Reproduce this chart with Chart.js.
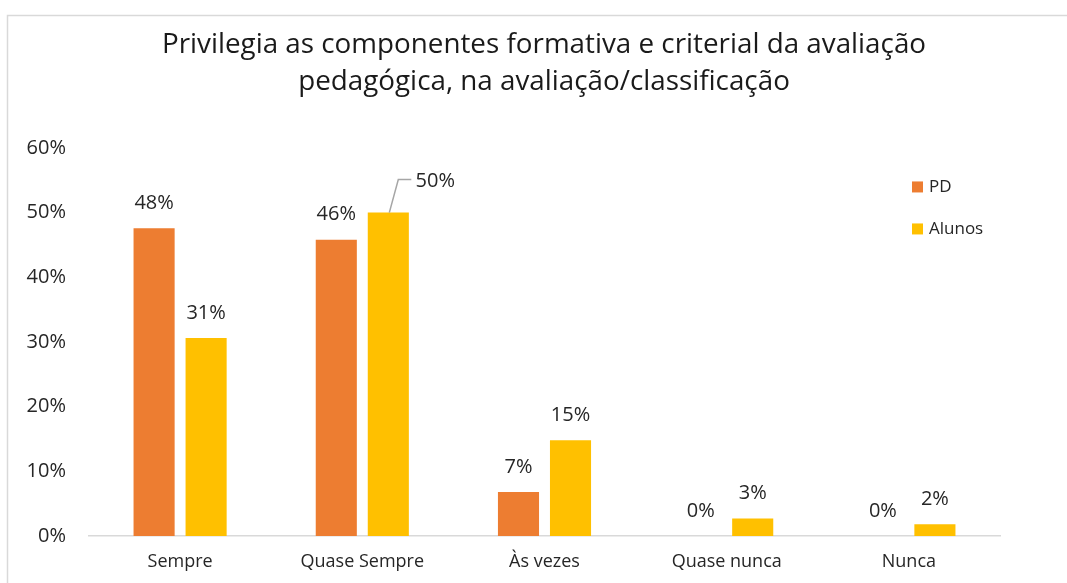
<!DOCTYPE html>
<html lang="pt">
<head>
<meta charset="utf-8">
<title>Privilegia as componentes formativa e criterial da avaliação pedagógica</title>
<script src="https://cdn.jsdelivr.net/npm/chart.js@4.4.1/dist/chart.umd.min.js"></script>
<style>
  html, body { margin: 0; padding: 0; background: #fff; }
  #wrap { width: 1067px; height: 583px; }
</style>
</head>
<body>
<div id="wrap"><canvas id="chart" width="1067" height="583"></canvas></div>
<script>
// --- data (percent) ---
const categories = ['Sempre', 'Quase Sempre', 'Às vezes', 'Quase nunca', 'Nunca'];
const seriesNames = ['PD', 'Alunos'];
const pdValues = [47.6, 45.8, 6.8, 0, 0];
const alunosValues = [30.6, 50.0, 14.8, 2.7, 1.8];
const yTicks = [0, 10, 20, 30, 40, 50, 60];
const titleLines = ['Privilegia as componentes formativa e criterial da avaliação',
                    'pedagógica, na avaliação/classificação'];

const FONT = '"Open Sans", "Noto Sans", sans-serif';
const TEXT = '#262626';
const colors = ['#ED7D31', '#FFC000'];

// light frame round the chart (top and left edges are visible)
const framePlugin = {
    id: 'frame',
    beforeDraw(chart) {
        const ctx = chart.ctx;
        ctx.save();
        ctx.strokeStyle = '#d9d9d9';
        ctx.lineWidth = 1.5;
        ctx.beginPath();
        ctx.moveTo(7.5, chart.height);
        ctx.lineTo(7.5, 15.5);
        ctx.lineTo(chart.width, 15.5);
        ctx.stroke();
        ctx.restore();
    }
};

// value labels on top of the bars; one label is pulled aside with a leader line
const valueLabels = {
    id: 'valueLabels',
    afterDatasetsDraw(chart, args, opts) {
        const ctx = chart.ctx;
        ctx.save();
        ctx.font = '20px ' + FONT;
        ctx.fillStyle = TEXT;
        ctx.textAlign = 'center';
        ctx.textBaseline = 'middle';
        chart.data.datasets.forEach((ds, di) => {
            chart.getDatasetMeta(di).data.forEach((bar, i) => {
                const txt = Math.round(ds.data[i]) + '%';
                const s = opts.shifted;
                if (s && s.dataset === di && s.index === i) {
                    ctx.strokeStyle = '#a6a6a6';
                    ctx.lineWidth = 1.5;
                    ctx.beginPath();
                    ctx.moveTo(bar.x + 1, bar.y);
                    ctx.lineTo(bar.x + 10, bar.y + s.dy - 2);
                    ctx.lineTo(bar.x + 23, bar.y + s.dy - 2);
                    ctx.stroke();
                    ctx.fillText(txt, bar.x + s.dx, bar.y + s.dy);
                } else {
                    ctx.fillText(txt, bar.x, bar.y - 25);
                }
            });
        });
        ctx.restore();
    }
};

// legend drawn inside the top-right corner of the plot
const cornerLegend = {
    id: 'cornerLegend',
    afterDraw(chart, args, opts) {
        const ctx = chart.ctx;
        const area = chart.chartArea;
        ctx.save();
        ctx.font = '17px ' + FONT;
        ctx.textBaseline = 'middle';
        chart.data.datasets.forEach((ds, i) => {
            const x = area.right + opts.offsetX;
            const y = area.top + opts.offsetY + i * opts.spacing;
            ctx.fillStyle = ds.backgroundColor;
            ctx.fillRect(x, y - 5.5, 11, 11);
            ctx.fillStyle = TEXT;
            ctx.fillText(ds.label, x + 17, y);
        });
        ctx.restore();
    }
};

const ctx = document.getElementById('chart');
new Chart(ctx, {
    type: 'bar',
    data: {
        labels: categories,
        datasets: [
            { label: seriesNames[0], data: pdValues, backgroundColor: colors[0] },
            { label: seriesNames[1], data: alunosValues, backgroundColor: colors[1] }
        ]
    },
    options: {
        responsive: false,
        animation: false,
        layout: { padding: { left: 21, right: 0, top: 0, bottom: 0 } },
        datasets: {
            bar: { categoryPercentage: 0.571, barPercentage: 0.79 }
        },
        scales: {
            x: {
                grid: { display: false, drawTicks: false },
                border: { display: true, color: '#d9d9d9', width: 1.5 },
                ticks: { color: TEXT, font: { family: FONT, size: 18 }, padding: 15 },
                afterFit(scale) { scale.height = 47; }
            },
            y: {
                min: 0,
                max: yTicks[yTicks.length - 1],
                grid: { display: false, drawTicks: false },
                border: { display: false },
                afterBuildTicks(scale) { scale.ticks = yTicks.map(v => ({ value: v })); },
                ticks: {
                    color: TEXT,
                    font: { family: FONT, size: 20 },
                    padding: 23,
                    callback: v => v + '%'
                },
                afterFit(scale) { scale.width = 68; }
            },
            // empty axis that only keeps space on the right side
            spare: {
                position: 'right',
                display: true,
                grid: { display: false, drawTicks: false },
                border: { display: false },
                ticks: { display: false },
                afterFit(scale) { scale.width = 67; }
            }
        },
        plugins: {
            legend: { display: false },
            tooltip: { enabled: false },
            title: {
                display: true,
                text: titleLines,
                color: '#1a1a1a',
                font: { family: FONT, size: 27.8, weight: 'normal', lineHeight: 1.33 },
                padding: { top: 27, bottom: 47 }
            },
            valueLabels: { shifted: { dataset: 1, index: 1, dx: 47, dy: -31 } },
            cornerLegend: { offsetX: -88, offsetY: 39, spacing: 42 }
        }
    },
    plugins: [framePlugin, valueLabels, cornerLegend]
});
</script>
</body>
</html>
